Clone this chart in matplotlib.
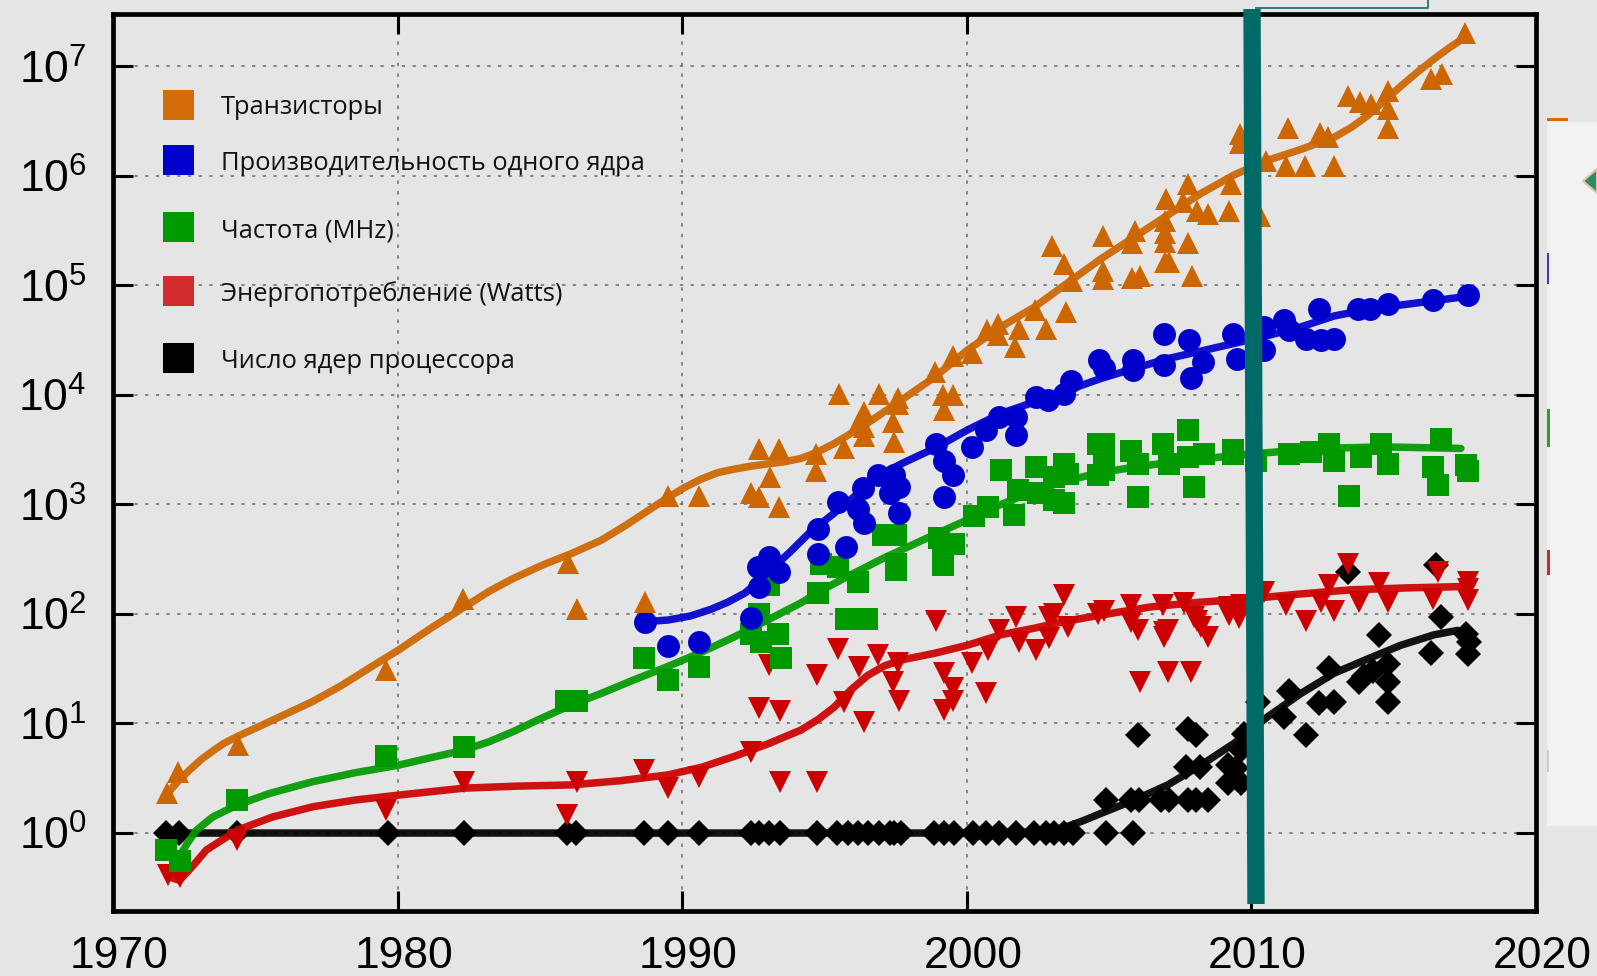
import numpy as np
import matplotlib
matplotlib.use("Agg")
import matplotlib.pyplot as plt
from matplotlib.lines import Line2D
from matplotlib.patches import Rectangle, Polygon
from matplotlib.ticker import FixedLocator, FixedFormatter
from matplotlib.transforms import ScaledTranslation

# ---------------- data ----------------
trans_years = [1971.9, 1972.3, 1974.4, 1979.6, 1982.3, 1986.0, 1986.3, 1988.7, 1989.5, 1990.6,
               1992.4, 1992.7, 1992.7, 1993.4, 1993.1, 1993.4, 1994.7, 1994.7, 1995.5, 1995.7,
               1996.2, 1996.4, 1996.4, 1996.4, 1996.9, 1997.4, 1997.45, 1997.6, 1997.6, 1998.9,
               1999.15, 1999.5, 1999.2, 1999.5, 2000.2, 2000.7, 2001.1, 2001.1, 2001.7, 2001.85,
               2002.4, 2002.8, 2003.0, 2003.4, 2003.5, 2003.7, 2004.8, 2004.8, 2004.8, 2005.8,
               2006.1, 2005.9, 2005.8, 2007.0, 2006.95, 2006.95, 2006.95, 2006.95, 2007.1, 2007.76,
               2007.76, 2007.9, 2007.6, 2008.1, 2008.46, 2009.2, 2009.3, 2009.6, 2009.6, 2010.3,
               2010.5, 2011.2, 2011.3, 2011.9, 2012.4, 2012.7, 2012.9, 2013.4, 2013.8, 2014.2,
               2014.8, 2014.8, 2014.8, 2016.3, 2016.7, 2017.5]
trans_vals = [2.3, 3.6, 6.3, 31, 138, 290, 110, 129, 1200, 1200,
              1260, 1170, 3200, 3200, 1780, 955, 2880, 2000, 10200, 3240,
              5600, 6900, 5100, 4170, 10200, 5600, 3700, 9300, 8300, 16200,
              10000, 10000, 7200, 22400, 24000, 39000, 44700, 35500, 27500, 40000,
              59000, 40000, 229000, 158000, 57500, 110000, 282000, 135000, 115000, 117000,
              122000, 316000, 245000, 610000, 389000, 302000, 251000, 162000, 162000, 832000,
              245000, 122000, 575000, 479000, 447000, 479000, 832000, 2.4e6, 2.0e6, 427000,
              1.35e6, 1.23e6, 2.75e6, 1.23e6, 2.45e6, 2.24e6, 1.23e6, 5.4e6, 4.7e6, 4.5e6,
              5.9e6, 4.1e6, 2.75e6, 7.6e6, 8.5e6, 2.0e7]

perf_years = [1988.7, 1989.5, 1990.6, 1992.4, 1992.7, 1992.65, 1993.06, 1993.4, 1994.76, 1994.76,
              1995.46, 1995.75, 1996.34, 1996.4, 1996.17, 1996.87, 1997.45, 1997.63, 1997.3, 1997.63,
              1998.92, 1999.21, 1999.5, 1999.21, 2000.2, 2000.67, 2001.14, 2001.73, 2001.73, 2002.43,
              2002.84, 2003.66, 2003.43, 2004.66, 2004.83, 2005.83, 2005.83, 2006.94, 2006.94, 2007.82,
              2007.88, 2008.29, 2009.34, 2009.49, 2010.45, 2010.45, 2011.16, 2011.33, 2011.92, 2012.44,
              2012.91, 2012.39, 2013.75, 2014.16, 2014.79, 2016.37, 2017.6]
perf_vals = [85, 51, 56, 91, 178, 270, 330, 240, 600, 355,
             1050, 410, 1400, 676, 912, 1860, 1860, 1450, 1260, 830,
             3590, 2510, 1860, 1170, 3350, 4790, 6310, 6310, 4270, 9550,
             8910, 13500, 10200, 20900, 17400, 20900, 17000, 36000, 18600, 31600,
             14100, 20000, 36300, 21400, 25700, 41700, 47900, 38900, 32400, 31600,
             32400, 60300, 60300, 60300, 67600, 74100, 81300]

freq_years = [1971.87, 1972.34, 1974.36, 1979.6, 1982.33, 1985.9, 1986.3, 1988.67, 1989.49, 1990.6,
              1992.42, 1992.71, 1993.35, 1993.47, 1992.78, 1993.06, 1994.76, 1994.88, 1995.46, 1996.16,
              1995.75, 1996.5, 1997.5, 1997.04, 1997.51, 1997.51, 1999.15, 1999.03, 1999.15, 1999.56,
              2000.26, 2000.73, 2001.2, 2001.67, 2001.79, 2002.43, 2002.5, 2003.43, 2003.54, 2003.43,
              2004.6, 2004.6, 2003.07, 2003.07, 2004.83, 2004.83, 2004.83, 2005.77, 2006.0, 2006.0,
              2006.88, 2007.11, 2007.76, 2007.76, 2008.0, 2008.34, 2009.34, 2009.34, 2010.16, 2011.33,
              2012.1, 2012.74, 2012.91, 2013.44, 2013.85, 2014.55, 2014.79, 2016.66, 2016.37, 2016.55,
              2017.54, 2017.6]
freq_vals = [0.7, 0.55, 2.0, 5.0, 6.1, 16, 16, 40, 25, 33,
             66, 100, 66, 40, 55, 182, 155, 288, 269, 195,
             89, 89, 251, 525, 525, 288, 282, 490, 347, 437,
             776, 955, 2040, 794, 1350, 2190, 1260, 1020, 1900, 2340,
             3590, 1860, 1100, 1780, 3590, 2040, 2690, 3090, 1170, 2340,
             3590, 2340, 4790, 2690, 1440, 2880, 2880, 3160, 2510, 2880,
             3000, 3590, 2510, 1200, 2690, 3590, 2340, 3980, 2190, 1500,
             2290, 2000]

power_years = [1971.93, 1972.34, 1974.36, 1979.6, 1982.33, 1985.95, 1986.3, 1988.67, 1989.49, 1990.6,
               1992.42, 1992.71, 1993.06, 1993.44, 1993.44, 1994.74, 1994.74, 1995.46, 1995.7, 1996.22,
               1996.4, 1996.87, 1997.4, 1997.57, 1997.63, 1998.92, 1999.21, 1999.5, 1999.5, 1999.21,
               2000.2, 2000.67, 2000.73, 2001.14, 2001.73, 2001.85, 2002.43, 2002.9, 2002.9, 2003.43,
               2003.54, 2003.07, 2004.6, 2004.83, 2005.77, 2005.77, 2006.0, 2006.1, 2006.88, 2006.94,
               2006.94, 2007.06, 2007.06, 2007.64, 2007.88, 2008.0, 2008.1, 2008.23, 2008.46, 2009.22,
               2009.22, 2009.57, 2009.63, 2010.45, 2011.21, 2011.92, 2012.44, 2012.74, 2012.91, 2013.41,
               2013.79, 2014.49, 2014.79, 2016.37, 2016.55, 2017.6, 2017.6, 2017.6]
power_vals = [0.41, 0.40, 0.86, 1.62, 2.95, 1.46, 2.95, 3.76, 2.6, 3.24,
              5.5, 13.8, 34, 12.9, 2.95, 2.95, 27.5, 48, 15.8, 33,
              10.4, 42, 24, 35.5, 16.2, 87, 28.8, 20.9, 16.2, 13.2,
              35.5, 18.8, 46.8, 70.8, 93, 55.6, 46.8, 93, 60.3, 148,
              76, 100, 100, 107, 120, 85, 70.8, 24, 120, 69,
              61.7, 29.5, 70.8, 126, 29.5, 93, 87, 76, 61.7, 98,
              115, 91, 120, 158, 120, 87, 129, 182, 107, 288,
              129, 190, 129, 138, 240, 195, 135, 170]

cores_years = [1971.87, 1972.31, 1974.36, 1979.66, 1982.33, 1985.95, 1986.28, 1988.67, 1989.49, 1990.58,
               1992.42, 1992.71, 1993.06, 1993.44, 1994.74, 1995.44, 1995.82, 1996.17, 1996.52, 1996.93,
               1997.31, 1997.45, 1997.69, 1998.86, 1999.21, 1999.56, 2000.21, 2000.67, 2001.14, 2001.73,
               2002.37, 2002.78, 2003.07, 2003.43, 2003.72, 2004.9, 2005.83,
               2004.9, 2005.77, 2006.06, 2006.82, 2007.11, 2007.76, 2008.05, 2008.46,
               2006.0, 2007.7, 2008.2, 2007.78, 2008.05, 2009.17, 2009.46, 2009.17, 2009.63, 2009.63,
               2009.75, 2010.22, 2011.13, 2011.33, 2011.92, 2012.39, 2012.71, 2012.91, 2013.38, 2013.79,
               2013.97, 2014.26, 2014.49, 2014.79, 2014.79, 2014.79, 2016.3, 2016.48, 2016.66, 2017.54,
               2017.66, 2017.6]
cores_vals = [1, 1, 1, 1, 1, 1, 1, 1, 1, 1,
              1, 1, 1, 1, 1, 1, 1, 1, 1, 1,
              1, 1, 1, 1, 1, 1, 1, 1, 1, 1,
              1, 1, 1, 1, 1, 1, 1,
              2, 2, 2, 2, 2, 2, 2, 2,
              7.8, 4, 4, 9, 7.8, 4.2, 3.9, 2.84, 2.84, 5.7,
              8.1, 15.8, 11.5, 20, 7.8, 15.3, 32, 15.8, 240, 24,
              27, 30, 64, 35, 24, 15.8, 44, 279, 94, 66,
              56, 43]

# trend curves (knots)
trans_fit_years = [1971.93, 1972.3, 1972.69, 1973.1, 1973.5, 1973.9, 1974.36, 1975.1, 1975.86, 1977.0,
                   1978.0, 1979.0, 1980.04, 1981.2, 1982.33, 1983.2, 1984.05, 1985.1, 1986.1, 1987.15,
                   1988.0, 1988.9, 1989.49, 1990.07, 1990.66, 1991.25, 1991.83, 1992.4, 1993.0, 1993.6,
                   1994.17, 1994.75, 1995.34, 1995.9, 1996.5, 1997.1, 1997.69, 1998.86, 2000.03, 2001.2,
                   2002.37, 2003.54, 2004.71, 2005.88, 2007.06, 2008.23, 2009.4, 2010.45, 2011.74, 2012.9,
                   2013.5, 2014.09, 2014.7, 2015.26, 2015.85, 2016.43, 2017.0, 2017.54]
trans_fit_vals = [2.32, 3.0, 3.76, 4.7, 5.6, 6.6, 7.59, 9.3, 11.5, 15.8,
                  22.0, 32.0, 47.0, 75.0, 115, 160, 210, 280, 355, 470,
                  640, 912, 1150, 1420, 1700, 1950, 2100, 2230, 2344, 2450,
                  2630, 3000, 3590, 4400, 5500, 7000, 8910, 14450, 25700, 41700,
                  63100, 105000, 174000, 275000, 437000, 690000, 1.02e6, 1.35e6, 1.74e6, 2.24e6,
                  2.75e6, 3.55e6, 4.9e6, 6.6e6, 8.9e6, 1.17e7, 1.5e7, 1.86e7]

perf_fit_years = [1988.67, 1989.5, 1990.3, 1991.0, 1991.6, 1992.2, 1992.7, 1993.2, 1993.8, 1994.5,
                  1995.34, 1996.0, 1996.5, 1997.1, 1997.69, 1998.3, 1998.86, 2000.03, 2001.2, 2002.37,
                  2003.54, 2004.71, 2005.88, 2007.06, 2008.23, 2009.4, 2010.57, 2011.74, 2012.91, 2014.09,
                  2015.26, 2016.43, 2017.6]
perf_fit_vals = [85, 88, 96, 110, 128, 155, 200, 265, 370, 560,
                 832, 1150, 1500, 1950, 2340, 2780, 3240, 4790, 6760, 8610,
                 11000, 14100, 17400, 21400, 25100, 29500, 34700, 41700, 52500, 60300,
                 66100, 72400, 79400]

freq_fit_years = [1972.34, 1972.6, 1972.93, 1973.5, 1974.36, 1975.5, 1977.03, 1978.5, 1980.04, 1981.2,
                  1982.33, 1983.2, 1984.05, 1985.0, 1986.1, 1987.15, 1988.3, 1989.49, 1990.7, 1991.83,
                  1993.0, 1994.17, 1995.0, 1995.8, 1997.0, 1998.0, 1999.0, 2000.03, 2001.2, 2002.37,
                  2003.54, 2004.71, 2005.88, 2007.64, 2009.98, 2012.33, 2014.67, 2017.36]
freq_fit_vals = [0.61, 0.8, 1.06, 1.4, 1.8, 2.3, 2.95, 3.55, 4.17, 4.9,
                 5.71, 6.8, 8.41, 11.0, 14.8, 18.8, 25.0, 33.1, 45.0, 61.7,
                 88.0, 126, 170, 219, 316, 417, 550, 724, 1000, 1320,
                 1660, 1950, 2190, 2510, 2880, 3240, 3350, 3240]

power_fit_years = [1971.93, 1972.34, 1972.8, 1973.28, 1974.36, 1975.6, 1977.03, 1978.5, 1980.04, 1982.33,
                   1984.2, 1986.1, 1987.8, 1989.49, 1990.7, 1991.83, 1993.0, 1994.17, 1994.8, 1995.34,
                   1995.9, 1996.52, 1997.1, 1997.69, 1998.86, 2000.03, 2001.2, 2002.37, 2003.5, 2004.71,
                   2006.47, 2008.2, 2009.98, 2011.7, 2013.5, 2015.5, 2017.48]
power_fit_vals = [0.40, 0.37, 0.5, 0.70, 1.06, 1.4, 1.74, 2.0, 2.22, 2.57,
                  2.68, 2.75, 3.0, 3.39, 4.0, 5.01, 6.5, 8.71, 11.0, 14.1,
                  20.0, 27.5, 33.5, 38.0, 43.7, 51.9, 64.6, 74.1, 86.0, 97.7,
                  116, 128, 138, 152, 166, 173, 178]

cores_fit_years = [1971.87, 1980.0, 1990.0, 2000.0, 2002.5, 2003.0, 2003.54, 2004.1, 2004.71, 2005.88,
                   2007.06, 2008.23, 2009.4, 2010.57, 2011.74, 2012.91, 2014.09, 2015.26, 2016.43, 2017.25]
cores_fit_vals = [1.0, 1.0, 1.0, 1.0, 1.02, 1.06, 1.15, 1.3, 1.51, 2.0,
                  2.75, 4.17, 6.61, 11.5, 18.8, 28.8, 38.9, 51.9, 64.6, 70.8]

legend_labels = ["Транзисторы", "Производительность одного ядра", "Частота (MHz)",
                 "Энергопотребление (Watts)", "Число ядер процессора"]
x_ticks = [1970, 1980, 1990, 2000, 2010, 2020]
y_exponents = [0, 1, 2, 3, 4, 5, 6, 7]

# ---------------- style ----------------
W, H = 1597, 976
BG = "#e5e5e5"
c_orange, c_blue, c_green, c_red, c_black = "#cc6600", "#0000cc", "#009900", "#cc0000", "#000000"
legend_colors = ["#d46c0a", "#0000cc", "#009900", "#d12c2c", "#000000"]

plt.rcParams["mathtext.fontset"] = "custom"
plt.rcParams["mathtext.rm"] = "Liberation Sans"
plt.rcParams["mathtext.it"] = "Liberation Sans:italic"
plt.rcParams["font.family"] = ["Liberation Sans", "DejaVu Sans"]

fig = plt.figure(figsize=(W / 100, H / 100), dpi=100, facecolor=BG)


def fx(px):
    return px / W


def fy(py):
    return 1 - py / H


ax_left, ax_right, ax_top, ax_bot = 113, 1536, 13.5, 910.5
ax = fig.add_axes([fx(ax_left), fy(ax_bot), fx(ax_right - ax_left), (ax_bot - ax_top) / H])
ax.set_facecolor(BG)
ax.set_yscale("log")
ax.set_xlim(1970, 2020)
ax.set_ylim(10 ** -0.707, 10 ** 7.481)

# grid
ax.xaxis.set_major_locator(FixedLocator(x_ticks))
ax.xaxis.set_major_formatter(FixedFormatter([str(t) for t in x_ticks]))
ax.yaxis.set_major_locator(FixedLocator([10.0 ** e for e in y_exponents]))
ax.yaxis.set_major_formatter(FixedFormatter([r"$\mathregular{10^{%d}}$" % e for e in y_exponents]))
ax.yaxis.set_minor_locator(FixedLocator([]))
ax.grid(True, which="major", color="#6a6a6a", linewidth=1.1, linestyle=(0, (2.2, 4.8)))
ax.set_axisbelow(True)

for s in ax.spines.values():
    s.set_linewidth(3.4)
    s.set_color("black")
ax.tick_params(which="major", direction="in", length=14.5, width=2.2, top=True, right=True,
               labelsize=32, colors="black")
ax.tick_params(axis="y", pad=19)
ax.tick_params(axis="x", pad=18.5)
for lab in ax.get_xticklabels():
    lab.set_transform(lab.get_transform() + ScaledTranslation(6 / 100, 0, fig.dpi_scale_trans))

# series: (years, vals, fit years, fit vals, marker, size, color, zorder)
series = [
    (cores_years, cores_vals, cores_fit_years, cores_fit_vals, "D", 13, c_black, 3),
    (power_years, power_vals, power_fit_years, power_fit_vals, "v", 16, c_red, 4),
    (freq_years, freq_vals, freq_fit_years, freq_fit_vals, "s", 15.5, c_green, 5),
    (perf_years, perf_vals, perf_fit_years, perf_fit_vals, "o", 16.5, c_blue, 6),
    (trans_years, trans_vals, trans_fit_years, trans_fit_vals, "^", 16, c_orange, 7),
]
for yrs, vals, fyrs, fvals, mk, ms, col, z in series:
    ax.plot(yrs, vals, linestyle="none", marker=mk, markersize=ms, color=col,
            markeredgewidth=0, zorder=z)
    ax.plot(fyrs, fvals, color=col, linewidth=5.4, alpha=0.92, solid_joinstyle="round",
            solid_capstyle="round", zorder=z + 0.5)

# legend (drawn manually)
legend_rows = [104.5, 159.5, 227, 291, 358]
for lab, col, ry in zip(legend_labels, legend_colors, legend_rows):
    fig.patches.append(Rectangle((fx(163), fy(ry + 15)), fx(31), 30 / H, transform=fig.transFigure,
                                 facecolor=col, edgecolor="none", zorder=10))
    fig.text(fx(221), fy(ry + 10), lab, fontsize=18.4, family=["Open Sans", "DejaVu Sans"],
             color="#111111", va="baseline", ha="left", zorder=10)

# slide overlay: teal vertical bar and box edge
fig.lines.append(Line2D([fx(1252), fx(1256)], [fy(9), fy(904)], transform=fig.transFigure,
                        color="#006b66", linewidth=12.5, solid_capstyle="butt", zorder=20))
fig.lines.append(Line2D([fx(1256), fx(1428), fx(1428)], [fy(8), fy(8), fy(0)], transform=fig.transFigure,
                        color="#1a7a75", linewidth=1.3, zorder=20))

# slide overlay: right side panel
fig.patches.append(Rectangle((fx(1547), fy(826)), fx(W - 1547), (826 - 122) / H, transform=fig.transFigure,
                             facecolor="#f2f2f2", edgecolor="none", zorder=1))
for (y0, y1, col, w) in [(118, 121, "#d46c0a", 21), (253, 284, "#3a3acc", 2), (409, 447, "#2f9e2f", 3),
                         (550, 575, "#cc2a2a", 3), (750, 772, "#cccccc", 2)]:
    fig.patches.append(Rectangle((fx(1547), fy(y1)), fx(w), (y1 - y0) / H, transform=fig.transFigure,
                                 facecolor=col, edgecolor="none", zorder=2))
fig.patches.append(Polygon([(fx(1583), fy(181)), (fx(1597), fy(169)), (fx(1597), fy(193))],
                           closed=True, transform=fig.transFigure, facecolor="#2a8a6a",
                           edgecolor="#d8c9a0", linewidth=1.5, zorder=2))

fig.savefig("out.png", dpi=100, facecolor=BG)
